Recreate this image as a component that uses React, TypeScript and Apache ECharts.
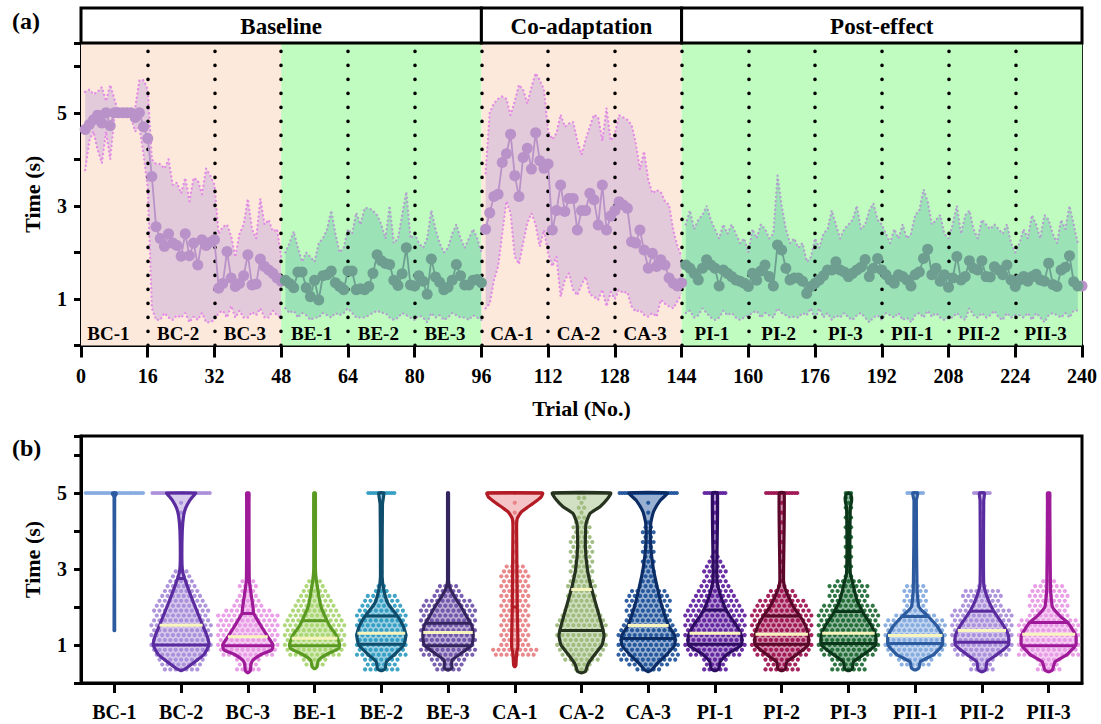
import React, { useEffect, useRef } from 'react';
import * as echarts from 'echarts';

const SERIF = '"Liberation Serif", "Times New Roman", Times, serif';

// ---------- Panel (a) ----------
const SEG_NAMES = ['BC-1', 'BC-2', 'BC-3', 'BE-1', 'BE-2', 'BE-3', 'CA-1', 'CA-2', 'CA-3', 'PI-1', 'PI-2', 'PI-3', 'PII-1', 'PII-2', 'PII-3'];
const SEG_KIND = ['C', 'C', 'C', 'E', 'E', 'E', 'C', 'C', 'C', 'E', 'E', 'E', 'E', 'E', 'E'];
const SEG_LEN = 16;
const PHASES: [number, number, string][] = [[0, 96, 'Baseline'], [96, 144, 'Co-adaptation'], [144, 240, 'Post-effect']];
const EXTRA_PURPLE = [240];
const X_TICKS_INTERVAL = 16;
const Y_LABELS = [1, 3, 5];

// mean time per trial (1..240)
const MEAN = [
  4.64, 4.75, 4.85, 4.95, 4.78, 5.0, 4.72, 5.0, 5.0, 5.0, 5.0, 5.0, 4.9, 5.0, 4.7, 4.45,
  3.63, 2.55, 2.3, 2.13, 2.4, 2.2, 2.15, 1.92, 2.4, 1.93, 2.2, 1.73, 2.27, 2.15, 2.22, 2.27,
  1.23, 1.33, 2.02, 1.45, 1.27, 1.33, 1.5, 1.95, 1.3, 1.32, 1.86, 1.7, 1.62, 1.55, 1.45, 1.38,
  1.4, 1.33, 1.24, 1.58, 1.58, 1.24, 1.05, 1.4, 0.98, 1.5, 1.52, 1.6, 1.35, 1.27, 1.2, 1.6,
  1.6, 1.2, 1.22, 1.2, 1.27, 1.55, 1.95, 1.82, 1.76, 1.74, 1.4, 1.29, 1.54, 2.1, 1.3, 1.28,
  1.5, 1.38, 1.1, 1.86, 1.47, 1.36, 1.2, 1.25, 1.4, 1.74, 1.5, 1.3, 1.3, 1.4, 1.42, 1.35,
  2.5, 2.85, 3.2, 3.25, 3.93, 4.12, 4.54, 3.65, 3.2, 4.04, 4.24, 3.79, 4.57, 3.97, 3.81, 3.9,
  2.48, 2.9, 3.45, 2.88, 3.16, 3.16, 2.48, 2.9, 2.9, 3.27, 3.13, 2.59, 3.45, 2.48, 2.78, 2.9,
  3.09, 3.02, 2.95, 2.23, 2.2, 2.48, 2.05, 1.66, 1.98, 1.7, 1.84, 1.73, 1.45, 1.34, 1.28, 1.35,
  1.73, 1.66, 1.55, 1.41, 1.66, 1.84, 1.73, 1.66, 1.28, 1.62, 1.55, 1.48, 1.41, 1.38, 1.34, 1.27,
  1.55, 1.4, 1.6, 1.73, 1.48, 1.28, 2.16, 2.05, 1.66, 1.41, 1.45, 1.45, 1.38, 1.12, 1.27, 1.34,
  1.41, 1.5, 1.62, 1.62, 1.8, 1.62, 1.58, 1.48, 1.55, 1.62, 1.68, 1.85, 1.48, 1.66, 1.87, 1.62,
  1.52, 1.41, 1.34, 1.52, 1.48, 1.41, 1.28, 1.52, 1.58, 1.87, 2.07, 1.52, 1.66, 1.38, 1.52, 1.25,
  1.45, 1.91, 1.41, 1.48, 1.82, 1.66, 1.62, 1.82, 1.48, 1.47, 1.69, 1.62, 1.52, 1.73, 1.41, 1.27,
  1.41, 1.48, 1.38, 1.48, 1.53, 1.41, 1.38, 1.77, 1.31, 1.27, 1.62, 1.68, 1.93, 1.37, 1.28, 1.28,
];
const UPPER = [
  5.45, 5.5, 5.4, 5.45, 5.55, 5.25, 5.6, 5.3, 5.0, 5.0, 5.0, 5.0, 5.1, 5.7, 5.7, 5.5,
  4.0, 3.9, 3.9, 3.8, 4.0, 3.45, 3.5, 3.27, 3.6, 3.1, 3.6, 3.55, 3.25, 3.8, 3.65, 3.45,
  2.4, 2.55, 2.6, 2.35, 1.9, 2.4, 2.6, 3.15, 2.5, 2.3, 3.15, 2.6, 2.7, 2.45, 2.5, 1.9,
  2.0, 2.2, 2.45, 2.1, 1.8, 2.0, 1.9, 1.8, 2.2, 2.3, 2.5, 2.9, 2.4, 2.0, 2.1, 2.5,
  2.4, 2.85, 2.6, 2.95, 2.95, 2.9, 2.8, 2.6, 2.3, 3.0, 2.2, 2.3, 2.8, 3.3, 2.3, 2.4,
  2.2, 2.1, 2.3, 2.9, 2.5, 2.2, 2.0, 2.1, 2.4, 2.6, 2.3, 2.1, 2.3, 2.5, 2.3, 2.0,
  3.7, 5.0, 5.2, 5.3, 5.35, 5.3, 4.95, 5.25, 5.6, 5.5, 5.2, 5.55, 5.85, 5.7, 5.5, 4.6,
  4.43, 4.56, 4.96, 4.7, 4.77, 4.8, 4.4, 4.1, 4.43, 4.7, 4.96, 4.9, 4.4, 5.1, 4.4, 4.55,
  4.95, 4.9, 4.85, 4.74, 4.35, 3.78, 4.17, 3.56, 3.27, 3.34, 3.3, 3.1, 3.02, 2.48, 2.13, 1.91,
  2.6, 2.9, 2.5, 2.7, 2.8, 3.0, 2.7, 2.5, 2.3, 2.6, 2.4, 2.6, 2.4, 2.2, 2.3, 2.0,
  2.5, 2.3, 2.6, 2.5, 2.3, 2.4, 3.65, 3.0, 2.5, 2.2, 2.3, 2.1, 2.2, 1.8, 1.9, 2.3,
  2.1, 2.4, 2.5, 2.9, 2.6, 2.3, 2.5, 2.6, 2.7, 3.0, 2.5, 2.6, 2.9, 3.05, 2.7, 2.6,
  2.4, 2.2, 2.5, 2.3, 2.6, 2.3, 2.4, 2.8, 2.9, 3.35, 3.1, 2.6, 2.7, 2.8, 2.4, 2.3,
  2.6, 3.0, 2.4, 2.8, 2.9, 2.5, 2.3, 2.7, 2.6, 2.5, 2.6, 2.5, 2.4, 2.6, 2.2, 2.0,
  2.2, 2.5, 2.3, 2.8, 2.6, 2.3, 2.8, 2.7, 2.4, 2.2, 2.7, 2.5, 3.0, 2.6, 2.2, 1.6,
];
const LOWER = [
  3.77, 4.4, 4.6, 4.2, 3.92, 4.6, 4.0, 4.9, 5.0, 5.0, 5.0, 4.9, 4.6, 4.7, 4.1, 3.4,
  0.8, 0.55, 0.55, 0.7, 0.6, 0.55, 0.65, 0.6, 0.7, 0.5, 0.62, 0.55, 0.7, 0.5, 0.5, 0.55,
  0.7, 0.75, 0.6, 0.85, 0.6, 0.75, 0.6, 0.6, 0.72, 0.65, 0.8, 0.6, 0.6, 0.75, 0.65, 0.6,
  0.8, 0.7, 0.75, 0.6, 0.7, 0.65, 0.55, 0.6, 0.6, 0.7, 0.65, 0.6, 0.7, 0.65, 0.7, 0.8,
  0.7, 0.6, 0.6, 0.6, 0.65, 0.7, 0.75, 0.7, 0.7, 0.6, 0.55, 0.6, 0.7, 0.65, 0.6, 0.55,
  0.65, 0.6, 0.5, 0.7, 0.6, 0.65, 0.55, 0.6, 0.7, 0.65, 0.6, 0.6, 0.55, 0.65, 0.6, 0.55,
  0.8, 0.9, 1.4, 1.7, 2.4, 3.1, 2.84, 1.91, 1.75, 2.2, 2.63, 2.84, 2.6, 2.13, 2.48, 1.98,
  1.7, 1.91, 1.05, 1.41, 1.55, 1.2, 1.08, 1.3, 1.48, 1.1, 1.05, 0.98, 1.2, 0.84, 1.15, 1.0,
  1.2, 1.13, 1.15, 0.84, 0.73, 0.76, 0.66, 0.62, 0.7, 0.62, 0.98, 0.9, 0.84, 0.8, 0.95, 1.1,
  0.7, 0.75, 0.6, 0.65, 0.8, 0.7, 0.6, 0.55, 0.6, 0.75, 0.65, 0.7, 0.6, 0.55, 0.6, 0.65,
  0.7, 0.75, 0.6, 0.7, 0.65, 0.6, 0.8, 0.7, 0.65, 0.6, 0.62, 0.6, 0.7, 0.65, 0.8, 0.55,
  0.8, 0.6, 0.7, 0.55, 0.65, 0.6, 0.7, 0.6, 0.55, 0.65, 0.7, 0.6, 0.5, 0.6, 0.65, 0.55,
  0.7, 0.65, 0.6, 0.7, 0.55, 0.6, 0.5, 0.65, 0.7, 0.6, 0.75, 0.62, 0.7, 0.6, 0.55, 0.6,
  0.6, 0.7, 0.6, 0.55, 0.8, 0.65, 0.6, 0.7, 0.6, 0.65, 0.75, 0.6, 0.55, 0.7, 0.6, 0.65,
  0.65, 0.6, 0.7, 0.55, 0.7, 0.6, 0.5, 0.65, 0.7, 0.65, 0.6, 0.7, 0.6, 0.75, 0.75, 0.9,
];

// ---------- Panel (b) ----------
const CATS = SEG_NAMES;
const POINT_COLORS = ['#7ea7de', '#a68ad8', '#e896e4', '#a6d46b', '#2a9ac0', '#6a4ea6', '#e77c80', '#9ab878', '#1a4f98', '#5b1a9b', '#9b0c4b', '#17662f', '#7ea7de', '#a68ad8', '#e896e4'];
const DARK_COLORS = ['#2c5a9e', '#5b2ba0', '#9e1a98', '#5a9a22', '#0f4d6c', '#35255f', '#b31b25', '#26331e', '#0b2c64', '#2e0c62', '#5a0829', '#0b3619', '#2c5a9e', '#5b2ba0', '#9e1a98'];
// violin outline profiles: [time, half-width as fraction of category width]
const VIOLINS = [
  [[1.38, 0.015], [1.45, 0.025], [4.9, 0.025], [4.97, 0.05], [5.0, 0.05]],
  [[0.33, 0.03], [0.38, 0.09], [0.5, 0.185], [0.75, 0.365], [1.0, 0.44], [1.25, 0.41], [1.5, 0.35], [2.0, 0.235], [2.5, 0.125], [2.9, 0.05], [3.2, 0.035], [4.0, 0.04], [4.4, 0.06], [4.6, 0.09], [4.8, 0.15], [4.95, 0.22], [5.0, 0.24]],
  [[0.27, 0.03], [0.32, 0.06], [0.5, 0.07], [0.6, 0.1], [0.75, 0.22], [0.87, 0.38], [1.0, 0.4], [1.25, 0.31], [1.5, 0.22], [1.83, 0.11], [2.0, 0.1], [2.7, 0.045], [4.8, 0.04], [5.0, 0.04]],
  [[0.38, 0.03], [0.43, 0.06], [0.6, 0.08], [0.75, 0.2], [0.9, 0.38], [1.0, 0.4], [1.25, 0.35], [1.5, 0.25], [2.0, 0.12], [2.7, 0.05], [3.0, 0.035], [5.0, 0.035]],
  [[0.33, 0.04], [0.38, 0.08], [0.56, 0.1], [0.75, 0.22], [1.0, 0.36], [1.25, 0.39], [1.5, 0.35], [1.75, 0.27], [2.1, 0.12], [2.45, 0.06], [2.8, 0.035], [4.7, 0.04], [5.0, 0.06]],
  [[0.35, 0.04], [0.4, 0.08], [0.6, 0.08], [0.78, 0.22], [1.0, 0.38], [1.25, 0.4], [1.5, 0.38], [1.75, 0.3], [2.0, 0.22], [2.27, 0.12], [2.5, 0.05], [2.7, 0.03], [5.0, 0.03]],
  [[0.43, 0.02], [0.47, 0.04], [0.78, 0.05], [0.96, 0.07], [2.0, 0.06], [4.1, 0.05], [4.33, 0.06], [4.5, 0.12], [4.73, 0.3], [4.9, 0.42], [5.0, 0.44]],
  [[0.27, 0.03], [0.3, 0.08], [0.5, 0.12], [0.75, 0.22], [1.0, 0.33], [1.25, 0.36], [1.5, 0.33], [2.0, 0.25], [2.5, 0.17], [3.0, 0.11], [3.6, 0.08], [4.2, 0.09], [4.46, 0.15], [4.64, 0.3], [4.82, 0.4], [5.0, 0.46]],
  [[0.3, 0.03], [0.35, 0.08], [0.5, 0.15], [0.75, 0.3], [1.0, 0.42], [1.25, 0.42], [1.5, 0.33], [2.0, 0.23], [2.5, 0.16], [3.0, 0.1], [3.6, 0.06], [4.2, 0.06], [4.5, 0.1], [4.8, 0.2], [5.0, 0.31]],
  [[0.33, 0.04], [0.38, 0.08], [0.56, 0.1], [0.75, 0.2], [1.0, 0.42], [1.25, 0.42], [1.5, 0.35], [1.75, 0.25], [2.0, 0.17], [2.45, 0.08], [2.8, 0.05], [5.0, 0.06]],
  [[0.33, 0.04], [0.38, 0.08], [0.56, 0.1], [0.75, 0.25], [1.0, 0.42], [1.25, 0.42], [1.5, 0.38], [1.75, 0.3], [2.0, 0.2], [2.45, 0.08], [2.7, 0.05], [5.0, 0.06]],
  [[0.33, 0.04], [0.38, 0.08], [0.56, 0.1], [0.75, 0.25], [1.0, 0.43], [1.25, 0.43], [1.5, 0.37], [1.83, 0.25], [2.18, 0.15], [2.53, 0.1], [2.9, 0.05], [4.6, 0.05], [4.8, 0.07], [4.95, 0.06], [5.0, 0.03]],
  [[0.35, 0.04], [0.4, 0.08], [0.56, 0.1], [0.75, 0.3], [1.0, 0.43], [1.25, 0.43], [1.5, 0.35], [1.75, 0.22], [2.0, 0.08], [2.5, 0.05], [4.8, 0.04], [5.0, 0.06]],
  [[0.3, 0.04], [0.35, 0.08], [0.56, 0.1], [0.75, 0.25], [1.0, 0.42], [1.25, 0.42], [1.5, 0.35], [1.92, 0.19], [2.27, 0.1], [2.6, 0.05], [4.8, 0.05], [5.0, 0.06]],
  [[0.3, 0.04], [0.35, 0.08], [0.56, 0.12], [0.75, 0.3], [1.0, 0.43], [1.25, 0.43], [1.59, 0.31], [1.75, 0.2], [2.0, 0.08], [2.5, 0.05], [4.8, 0.04], [5.0, 0.04]],
];
// spread of the individual points: [time, half-width as fraction of category width]
const SWARMS = [
  [[4.95, 0.46], [5.0, 0.46]],
  [[0.35, 0.25], [0.6, 0.33], [0.8, 0.45], [1.6, 0.45], [2.0, 0.4], [2.5, 0.29], [2.9, 0.12], [3.0, 0.02], [4.9, 0.02], [4.95, 0.45], [5.0, 0.45]],
  [[0.28, 0.1], [0.35, 0.2], [0.5, 0.12], [0.6, 0.15], [0.75, 0.45], [1.85, 0.45], [2.0, 0.3], [2.3, 0.14], [2.7, 0.12], [2.8, 0.02], [5.0, 0.02]],
  [[0.4, 0.15], [0.6, 0.15], [0.75, 0.45], [1.7, 0.45], [1.85, 0.4], [2.3, 0.2], [2.7, 0.15], [2.8, 0.02], [5.0, 0.02]],
  [[0.35, 0.3], [0.45, 0.2], [0.6, 0.3], [0.75, 0.39], [1.9, 0.39], [2.1, 0.35], [2.3, 0.2], [2.7, 0.05], [2.9, 0.02], [4.9, 0.02], [4.95, 0.21], [5.0, 0.21]],
  [[0.3, 0.15], [0.43, 0.2], [0.6, 0.3], [0.78, 0.42], [1.9, 0.42], [2.05, 0.37], [2.5, 0.2], [2.7, 0.02], [5.0, 0.02]],
  [[0.45, 0.03], [0.72, 0.08], [0.76, 0.45], [0.86, 0.45], [0.9, 0.1], [0.95, 0.22], [3.1, 0.2], [3.2, 0.02], [5.0, 0.02]],
  [[0.3, 0.1], [0.5, 0.2], [0.75, 0.3], [1.0, 0.37], [1.6, 0.37], [2.0, 0.22], [3.6, 0.17], [4.2, 0.15], [4.5, 0.06], [5.0, 0.06]],
  [[0.32, 0.15], [0.5, 0.3], [0.65, 0.45], [1.4, 0.45], [1.6, 0.35], [2.0, 0.35], [2.36, 0.3], [2.6, 0.1], [3.8, 0.1], [4.0, 0.15], [4.2, 0.04], [4.9, 0.04], [4.95, 0.46], [5.0, 0.46]],
  [[0.35, 0.2], [0.6, 0.2], [0.75, 0.45], [1.8, 0.45], [2.2, 0.32], [2.7, 0.2], [3.2, 0.15], [3.4, 0.03], [4.9, 0.03], [4.95, 0.16], [5.0, 0.16]],
  [[0.35, 0.25], [0.6, 0.25], [0.75, 0.45], [1.9, 0.45], [2.1, 0.38], [2.5, 0.15], [2.7, 0.03], [4.9, 0.03], [4.95, 0.25], [5.0, 0.25]],
  [[0.35, 0.25], [0.6, 0.25], [0.75, 0.45], [1.9, 0.45], [2.2, 0.3], [2.62, 0.28], [2.8, 0.05], [4.8, 0.05], [4.95, 0.1], [5.0, 0.05]],
  [[0.38, 0.25], [0.6, 0.25], [0.75, 0.45], [1.7, 0.45], [1.9, 0.2], [2.5, 0.2], [2.7, 0.03], [4.9, 0.03], [4.95, 0.12], [5.0, 0.12]],
  [[0.32, 0.2], [0.6, 0.2], [0.75, 0.45], [1.9, 0.45], [2.1, 0.3], [2.45, 0.28], [2.6, 0.03], [4.9, 0.03], [4.95, 0.12], [5.0, 0.12]],
  [[0.32, 0.2], [0.6, 0.2], [0.75, 0.47], [1.6, 0.47], [1.85, 0.3], [2.36, 0.3], [2.7, 0.15], [2.8, 0.03], [5.0, 0.03]],
];
const Q_LOW = [null, 1.0, 0.98, 0.98, 1.02, 0.98, 2.0, 1.38, 1.17, 1.02, 1.02, 1.04, 1.04, 1.07, 0.98];
const Q_HIGH = [null, 2.75, 1.83, 1.64, 1.76, 1.57, 5.0, 5.0, null, 1.92, 1.76, 1.88, 1.75, 1.89, 1.59];
const MEANS_B = [null, 1.52, 1.22, 1.18, 1.31, 1.33, null, 2.46, 1.51, 1.31, 1.28, 1.31, 1.25, 1.38, 1.28];

// ---------- styles ----------
const PEACH = '#fde9dc';
const MINT = '#c0fcc0';
const BAND_FILL = { C: 'rgba(190,160,215,0.42)', E: 'rgba(105,190,170,0.42)' };
const MEAN_COLOR = { C: '#b892c8', E: '#6d9e90' };
const EDGE_COLOR = { C: '#e38ce5', E: '#b3a0cf' };

function kindOf(t: number): string {
  if (EXTRA_PURPLE.includes(t)) return 'C';
  return SEG_KIND[Math.floor((t - 1) / SEG_LEN)];
}

function interp(p: number[][], v: number): number {
  if (v < p[0][0] - 1e-9 || v > p[p.length - 1][0] + 1e-9) return -1;
  for (let i = 0; i < p.length - 1; i++) {
    const [v0, w0] = p[i];
    const [v1, w1] = p[i + 1];
    if (v >= v0 - 1e-9 && v <= v1 + 1e-9) {
      if (v1 === v0) return Math.max(w0, w1);
      return w0 + ((w1 - w0) * (v - v0)) / (v1 - v0);
    }
  }
  return p[p.length - 1][1];
}

export default function App() {
  const ref = useRef<HTMLDivElement>(null);
  useEffect(() => {
    const chart = echarts.init(ref.current as HTMLDivElement, null, { renderer: 'svg' });
    const N = MEAN.length;
    const trials = Array.from({ length: N }, (_, i) => i + 1);

    const runs: [number, number, string][] = [];
    trials.forEach((t) => {
      const k = kindOf(t);
      const last = runs[runs.length - 1];
      if (last && last[2] === k && last[1] === t - 1) last[1] = t;
      else runs.push([t, t, k]);
    });
    const bg: [number, number, string][] = [];
    SEG_KIND.forEach((k, i) => {
      const last = bg[bg.length - 1];
      if (last && last[2] === k) last[1] = (i + 1) * SEG_LEN;
      else bg.push([i * SEG_LEN, (i + 1) * SEG_LEN, k]);
    });
    const seps = SEG_NAMES.slice(1).map((_, i) => (i + 1) * SEG_LEN);

    const axisFont = { color: '#000', fontFamily: SERIF, fontWeight: 'bold' as const, fontSize: 20 };
    const nameFont = { color: '#000', fontFamily: SERIF, fontWeight: 'bold' as const, fontSize: 22 };
    const axisLine = { show: true, onZero: false, lineStyle: { color: '#000', width: 3 } };
    const yFormatter = (v: number) => (Y_LABELS.includes(v) ? String(v) : '');

    const lineSeries = (arr: number[], k: string, kind: 'edge' | 'mean') => ({
      type: 'line',
      xAxisIndex: 0,
      yAxisIndex: 0,
      z: kind === 'edge' ? 3 : 5,
      data: trials.map((t) => [t, kindOf(t) === k ? arr[t - 1] : null]),
      connectNulls: false,
      silent: true,
      symbol: kind === 'edge' ? 'none' : 'circle',
      symbolSize: 11,
      showSymbol: kind === 'mean',
      itemStyle: { color: MEAN_COLOR[k], opacity: 1 },
      lineStyle:
        kind === 'edge'
          ? { color: EDGE_COLOR[k], width: 2.3, type: [0.1, 4.2], cap: 'round' }
          : { color: MEAN_COLOR[k], width: 1.8 },
    });

    const option: any = {
      animation: false,
      graphic: [
        { type: 'text', left: 12, top: 9, style: { text: '(a)', font: `bold 24px ${SERIF}`, fill: '#000' } },
        { type: 'text', left: 12, top: 436, style: { text: '(b)', font: `bold 24px ${SERIF}`, fill: '#000' } },
      ],
      grid: [
        { left: 81, right: 19, top: 43, bottom: 378.5, show: true, borderColor: '#1c2b1c', borderWidth: 2, backgroundColor: 'transparent' },
        { left: 81, right: 19, top: 8, height: 35 },
        { left: 81, right: 19, top: 436, bottom: 41, show: true, borderColor: '#000', borderWidth: 3, backgroundColor: 'transparent' },
      ],
      xAxis: [
        {
          gridIndex: 0, type: 'value', min: 0, max: 240, interval: X_TICKS_INTERVAL,
          axisLine, axisTick: { show: true, length: 12, lineStyle: { color: '#000', width: 3 } },
          axisLabel: { ...axisFont, margin: 20 }, splitLine: { show: false },
          name: 'Trial (No.)', nameLocation: 'middle', nameGap: 52, nameTextStyle: nameFont,
        },
        { gridIndex: 1, type: 'value', min: 0, max: 240, show: false },
        {
          gridIndex: 2, type: 'category', data: CATS, boundaryGap: true,
          axisLine, axisTick: { show: true, alignWithLabel: true, length: 10, lineStyle: { color: '#000', width: 3 } },
          axisLabel: { ...axisFont, margin: 19, interval: 0 }, splitLine: { show: false },
        },
      ],
      yAxis: [
        {
          gridIndex: 0, type: 'value', min: 0, max: 6.5, interval: 1,
          axisLine, axisTick: { show: true, length: 7, lineStyle: { color: '#000', width: 3 } },
          axisLabel: { ...axisFont, margin: 14, formatter: yFormatter }, splitLine: { show: false },
          name: 'Time (s)', nameLocation: 'middle', nameGap: 38, nameTextStyle: nameFont,
        },
        { gridIndex: 1, type: 'value', min: 0, max: 1, show: false },
        {
          gridIndex: 2, type: 'value', min: 0, max: 6.5, interval: 1,
          axisLine, axisTick: { show: true, length: 7, lineStyle: { color: '#000', width: 3 } },
          axisLabel: { ...axisFont, margin: 14, formatter: yFormatter }, splitLine: { show: false },
          name: 'Time (s)', nameLocation: 'middle', nameGap: 38, nameTextStyle: nameFont,
        },
      ],
      series: [
        {
          type: 'line', xAxisIndex: 0, yAxisIndex: 0, z: 0, silent: true, data: [],
          markArea: {
            silent: true,
            data: bg.map(([a, b, k]) => [{ xAxis: a, itemStyle: { color: k === 'C' ? PEACH : MINT } }, { xAxis: b }]),
          },
        },
        {
          type: 'custom', xAxisIndex: 0, yAxisIndex: 0, z: 2, silent: true,
          data: runs.map((r) => [r[0], 0]),
          renderItem: (params: any, api: any) => {
            const [a, b, k] = runs[params.dataIndex];
            const pts: number[][] = [];
            for (let t = a; t <= b; t++) pts.push(api.coord([t, UPPER[t - 1]]));
            for (let t = b; t >= a; t--) pts.push(api.coord([t, LOWER[t - 1]]));
            return { type: 'polygon', shape: { points: pts }, style: { fill: BAND_FILL[k], stroke: 'none' } };
          },
        },
        lineSeries(UPPER, 'C', 'edge'),
        lineSeries(LOWER, 'C', 'edge'),
        lineSeries(UPPER, 'E', 'edge'),
        lineSeries(LOWER, 'E', 'edge'),
        {
          type: 'line', xAxisIndex: 0, yAxisIndex: 0, z: 4, silent: true, data: [],
          markLine: {
            silent: true, symbol: ['none', 'none'], label: { show: false },
            lineStyle: { color: '#000', width: 3.6, type: [0.1, 13.9], cap: 'round' },
            emphasis: { disabled: true },
            data: seps.map((x) => ({ xAxis: x })),
          },
        },
        lineSeries(MEAN, 'C', 'mean'),
        lineSeries(MEAN, 'E', 'mean'),
        {
          type: 'custom', xAxisIndex: 0, yAxisIndex: 0, z: 6, silent: true,
          data: SEG_NAMES.map((_, i) => [i * SEG_LEN + SEG_LEN / 2, 0.25]),
          renderItem: (params: any, api: any) => {
            const i = params.dataIndex;
            const p = api.coord([i * SEG_LEN + SEG_LEN / 2, 0.25]);
            return {
              type: 'text',
              style: {
                text: SEG_NAMES[i], x: p[0] - (i === 0 ? 6 : 3), y: p[1], fill: '#000',
                font: `bold 19px ${SERIF}`, align: 'center', verticalAlign: 'middle',
                textAlign: 'center', textVerticalAlign: 'middle',
              },
            };
          },
        },
        {
          type: 'custom', xAxisIndex: 1, yAxisIndex: 1, z: 6, silent: true,
          data: PHASES.map((p) => [p[0], 0]),
          renderItem: (params: any, api: any) => {
            const [a, b, name] = PHASES[params.dataIndex];
            const p0 = api.coord([a, 1]);
            const p1 = api.coord([b, 0]);
            return {
              type: 'group',
              children: [
                { type: 'rect', shape: { x: p0[0], y: p0[1], width: p1[0] - p0[0], height: p1[1] - p0[1] }, style: { fill: '#fff', stroke: '#000', lineWidth: 3 } },
                {
                  type: 'text',
                  style: {
                    text: name, x: (p0[0] + p1[0]) / 2, y: (p0[1] + p1[1]) / 2 + 1, fill: '#000',
                    font: `bold 23px ${SERIF}`, align: 'center', verticalAlign: 'middle',
                    textAlign: 'center', textVerticalAlign: 'middle',
                  },
                },
              ],
            };
          },
        },
        {
          type: 'custom', xAxisIndex: 2, yAxisIndex: 2, z: 3, silent: true,
          data: CATS.map((_, i) => [i, 0]),
          renderItem: (params: any, api: any) => {
            const i = params.dataIndex;
            const bw = api.size([1, 0])[0];
            const cx = api.coord([i, 0])[0];
            const yOf = (v: number) => api.coord([i, v])[1];
            const vp = VIOLINS[i];
            const sw = SWARMS[i];
            const pc = POINT_COLORS[i];
            const dc = DARK_COLORS[i];
            const half = (w: number) => Math.max(w * bw - 1.5, 0.3);
            const right = vp.map(([v, w]) => [cx + half(w), yOf(v)]);
            const left = vp.slice().reverse().map(([v, w]) => [cx - half(w), yOf(v)]);
            const poly = right.concat(left);
            const children: any[] = [];
            children.push({ type: 'polygon', shape: { points: poly, smooth: 0.15 }, style: { fill: pc, opacity: 0.45, stroke: 'none' } });
            const ppu = yOf(0) - yOf(1);
            const step = 4.9;
            const dx = 5.4;
            const vmax = sw[sw.length - 1][0];
            for (let k = 0; k < 400; k++) {
              const v = vmax - (k * step) / ppu;
              if (v < sw[0][0] - 1e-6) break;
              const w = interp(sw, v);
              if (w < 0) continue;
              const hw = w * bw;
              const y = yOf(v);
              const xs: number[] = [];
              const gap = k === 0 ? 2.6 : dx;
              if (k % 2 === 0) {
                xs.push(0);
                for (let d = gap; d <= hw + 0.01; d += gap) xs.push(d, -d);
              } else {
                for (let d = gap / 2; d <= hw + 0.01; d += gap) xs.push(d, -d);
              }
              xs.forEach((x) => children.push({ type: 'circle', shape: { cx: cx + x, cy: y, r: 2.1 }, style: { fill: pc, opacity: 0.9 } }));
            }
            children.push({ type: 'polygon', shape: { points: poly, smooth: 0.15 }, style: { fill: 'none', stroke: dc, lineWidth: 3.2, lineJoin: 'round' } });
            const hline = (v: number | null, color: string, lw: number) => {
              if (v === null || v === undefined) return;
              const w = interp(vp, v);
              if (w < 0) return;
              const hw = Math.max(w * bw - 1.5, 2);
              const y = yOf(v);
              children.push({ type: 'line', shape: { x1: cx - hw, y1: y, x2: cx + hw, y2: y }, style: { stroke: color, lineWidth: lw } });
            };
            hline(Q_LOW[i], dc, 3);
            hline(Q_HIGH[i], dc, 3);
            hline(MEANS_B[i], '#f8f4bd', 3);
            return { type: 'group', children };
          },
        },
      ],
    };
    chart.setOption(option);
    return () => chart.dispose();
  }, []);
  return <div ref={ref} style={{ position: 'fixed', left: 0, top: 0, width: 1101, height: 724, background: '#fff' }} />;
}
